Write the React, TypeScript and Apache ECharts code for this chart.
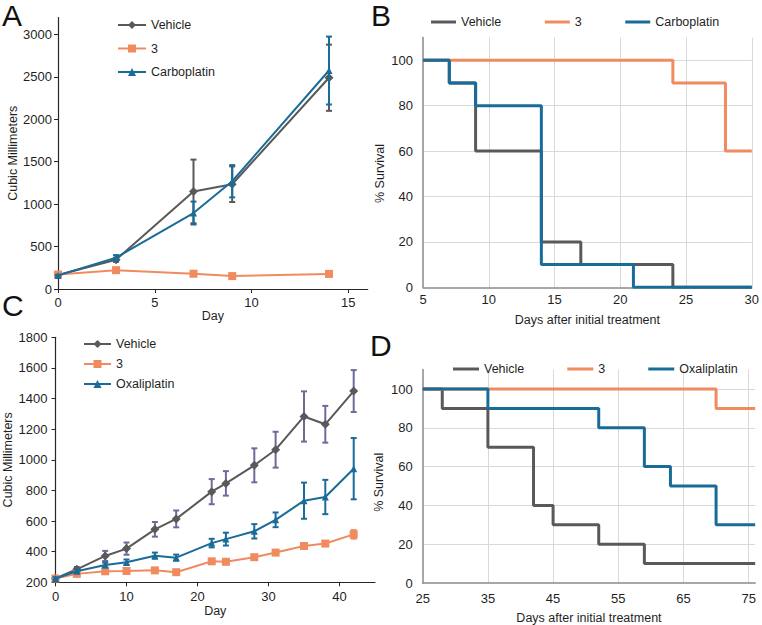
import React, { useEffect, useRef } from "react";
import * as echarts from "echarts";

// ---------- Panel A: tumour volume, carboplatin study ----------
const daysA = [0, 3, 7, 9, 14];
const vehicleA = [165, 345, 1150, 1235, 2490];
const vehicleAErr = [8, 25, 375, 210, 390];
const cmpd3A = [170, 222, 180, 152, 178];
const cmpd3AErr = [8, 10, 10, 8, 10];
const carboA = [160, 370, 895, 1270, 2575];
const carboAErr = [8, 30, 135, 190, 400];
const ticksAX = [0, 5, 10, 15];
const ticksAY = [0, 500, 1000, 1500, 2000, 2500, 3000];

// ---------- Panel B: survival, carboplatin study ----------
const survBVehicleT = [5, 7, 9, 14, 17, 24, 30];
const survBVehicle = [100, 90, 60, 20, 10, 0, 0];
const survB3T = [5, 24, 28, 30];
const survB3 = [100, 90, 60, 60];
const survBCarboT = [5, 7, 9, 14, 21, 30];
const survBCarbo = [100, 90, 80, 10, 0, 0];

// ---------- Panel C: tumour volume, oxaliplatin study ----------
const daysC = [0, 3, 7, 10, 14, 17, 22, 24, 28, 31, 35, 38, 42];
const vehicleC = [225, 285, 372, 420, 546, 614, 792, 846, 964, 1066, 1283, 1232, 1449];
const vehicleCErr = [10, 15, 33, 40, 48, 55, 82, 80, 111, 117, 164, 120, 137];
const cmpd3C = [225, 255, 272, 274, 278, 266, 337, 334, 364, 394, 437, 453, 513];
const cmpd3CErr = [8, 8, 10, 10, 10, 8, 12, 12, 12, 10, 12, 15, 28];
const oxaliC = [225, 272, 313, 331, 374, 361, 456, 482, 533, 608, 733, 757, 942];
const oxaliCErr = [8, 10, 15, 18, 20, 20, 28, 42, 47, 48, 118, 112, 200];
const ticksCX = [0, 10, 20, 30, 40];
const ticksCY = [200, 400, 600, 800, 1000, 1200, 1400, 1600, 1800];

// ---------- Panel D: survival, oxaliplatin study ----------
const survDVehicleT = [25, 28, 35, 42, 45, 52, 59, 76];
const survDVehicle = [100, 90, 70, 40, 30, 20, 10, 10];
const survD3T = [25, 70, 76];
const survD3 = [100, 90, 90];
const survDOxaliT = [25, 35, 52, 59, 63, 70, 76];
const survDOxali = [100, 90, 80, 60, 50, 30, 30];

const FONT = '"Liberation Sans", Arial, Helvetica, sans-serif';
const GRAY = "#595959";
const ORANGE = "#f08b60";
const BLUE = "#1a6c98";
const PURPLE = "#6c6c9c";
const TXT = "#1f1f1f";

function pairs(xs: number[], ys: number[]) {
  return xs.map((x, i) => [x, ys[i]]);
}

function errSeries(name: string, idx: number, xs: number[], mean: number[], err: number[], color: string, z: number) {
  return {
    type: "custom",
    name,
    xAxisIndex: idx,
    yAxisIndex: idx,
    silent: true,
    z,
    data: xs.map((x, i) => [x, mean[i] - err[i], mean[i] + err[i]]),
    encode: { x: 0, y: [1, 2] },
    renderItem: (_p: any, api: any) => {
      const x = api.value(0);
      const lo = api.coord([x, api.value(1)]);
      const hi = api.coord([x, api.value(2)]);
      const st = { stroke: color, lineWidth: 2, fill: "none" };
      const w = 3;
      return {
        type: "group",
        children: [
          { type: "line", shape: { x1: lo[0], y1: lo[1], x2: hi[0], y2: hi[1] }, style: st },
          { type: "line", shape: { x1: lo[0] - w, y1: lo[1], x2: lo[0] + w, y2: lo[1] }, style: st },
          { type: "line", shape: { x1: hi[0] - w, y1: hi[1], x2: hi[0] + w, y2: hi[1] }, style: st },
        ],
      };
    },
  };
}

function lineSeries(name: string, idx: number, xs: number[], ys: number[], color: string, symbol: string, size: number, z: number) {
  return {
    type: "line",
    name,
    xAxisIndex: idx,
    yAxisIndex: idx,
    data: pairs(xs, ys),
    symbol,
    symbolSize: size,
    lineStyle: { color, width: 2 },
    itemStyle: { color },
    z,
  };
}

function stepSeries(name: string, idx: number, xs: number[], ys: number[], color: string, z: number) {
  return {
    type: "line",
    name,
    xAxisIndex: idx,
    yAxisIndex: idx,
    step: "end",
    data: pairs(xs, ys),
    symbol: "none",
    lineStyle: { color, width: 3 },
    itemStyle: { color },
    z,
  };
}

const plain = (v: number) => String(v);
const labelStyle = { fontFamily: FONT, fontSize: 13, color: TXT, formatter: plain };
const nameStyle = { fontFamily: FONT, fontSize: 12.5, color: TXT };
const legendText = { fontFamily: FONT, fontSize: 12.5, color: TXT, lineHeight: 14 };
const stripName = (n: string) => n.split("|")[1];

export default function App() {
  const ref = useRef<HTMLDivElement>(null);
  useEffect(() => {
    if (!ref.current) return;
    const chart = echarts.init(ref.current, undefined, { renderer: "svg" });
    const blackAxis = { show: true, lineStyle: { color: "#262626", width: 1.2 } };
    const grayAxis = { show: true, lineStyle: { color: "#8a8a8a", width: 1.5 } };
    const grid = { show: true, lineStyle: { color: "#d9d9d9", width: 1 }, showMaxLine: false };

    const option: any = {
      animation: false,
      backgroundColor: "#ffffff",
      grid: [
        { left: 58, top: 17.5, width: 309.7, height: 271.5 },
        { left: 423, top: 37.6, width: 332.3, height: 249.7 },
        { left: 55.5, top: 337.3, width: 319.5, height: 245 },
        { left: 422.7, top: 369.6, width: 332.5, height: 213.7 },
      ],
      xAxis: [
        {
          gridIndex: 0, type: "value", min: 0, max: 16, interval: 5,
          axisLine: blackAxis,
          axisTick: { show: true, length: 4, customValues: ticksAX, lineStyle: { color: "#262626" } },
          axisLabel: { ...labelStyle, margin: 7, showMaxLabel: false },
          splitLine: { show: false },
          name: "Day", nameLocation: "middle", nameGap: 11, nameTextStyle: nameStyle,
        },
        {
          gridIndex: 1, type: "value", min: 5, max: 30, interval: 5,
          axisLine: grayAxis, axisTick: { show: false },
          axisLabel: { ...labelStyle, margin: 6 },
          splitLine: { ...grid, showMaxLine: true, showMinLine: false },
          name: "Days after initial treatment", nameLocation: "middle", nameGap: 26, nameTextStyle: nameStyle,
        },
        {
          gridIndex: 2, type: "value", min: 0, max: 45, interval: 10,
          axisLine: blackAxis,
          axisTick: { show: true, length: 4, customValues: ticksCX, lineStyle: { color: "#262626" } },
          axisLabel: { ...labelStyle, margin: 8, showMaxLabel: false },
          splitLine: { show: false },
          name: "Day", nameLocation: "middle", nameGap: 22, nameTextStyle: nameStyle,
        },
        {
          gridIndex: 3, type: "value", min: 25, max: 76, interval: 10,
          axisLine: grayAxis, axisTick: { show: false },
          axisLabel: { ...labelStyle, margin: 9, showMaxLabel: false },
          splitLine: { ...grid, showMinLine: false },
          name: "Days after initial treatment", nameLocation: "middle", nameGap: 28, nameTextStyle: nameStyle,
        },
      ],
      yAxis: [
        {
          gridIndex: 0, type: "value", min: 0, max: 3200, interval: 500,
          axisLine: blackAxis,
          axisTick: { show: true, length: 4, customValues: ticksAY, lineStyle: { color: "#262626" } },
          axisLabel: { ...labelStyle, margin: 6, showMaxLabel: false },
          splitLine: { show: false },
          name: "Cubic Millimeters", nameLocation: "middle", nameGap: 38, nameTextStyle: nameStyle,
        },
        {
          gridIndex: 1, type: "value", min: 0, max: 110, interval: 20,
          axisLine: grayAxis, axisTick: { show: false },
          axisLabel: { ...labelStyle, margin: 10, showMaxLabel: false },
          splitLine: { ...grid, showMinLine: false },
          name: "% Survival", nameLocation: "middle", nameGap: 37,
          nameTextStyle: { ...nameStyle, padding: [0, 22, 0, 0] },
        },
        {
          gridIndex: 2, type: "value", min: 200, max: 1800, interval: 200,
          axisLine: blackAxis,
          axisTick: { show: true, length: 4, customValues: ticksCY, lineStyle: { color: "#262626" } },
          axisLabel: { ...labelStyle, margin: 8 },
          splitLine: { show: false },
          name: "Cubic Millimeters", nameLocation: "middle", nameGap: 41, nameTextStyle: nameStyle,
        },
        {
          gridIndex: 3, type: "value", min: 0, max: 110, interval: 20,
          axisLine: grayAxis, axisTick: { show: false },
          axisLabel: { ...labelStyle, margin: 10, showMaxLabel: false },
          splitLine: { ...grid, showMinLine: false },
          name: "% Survival", nameLocation: "middle", nameGap: 37,
          nameTextStyle: { ...nameStyle, padding: [0, 12, 0, 0] },
        },
      ],
      legend: [
        {
          orient: "vertical", left: 112, top: 13, itemWidth: 28, itemHeight: 10, itemGap: 9.5,
          data: ["A|Vehicle", "A|3", "A|Carboplatin"], formatter: stripName, textStyle: legendText,
          selectedMode: false,
        },
        {
          orient: "horizontal", left: 426, top: 10, itemWidth: 25, itemHeight: 3, itemGap: 43.5,
          data: [
            { name: "B|Vehicle", icon: "rect" },
            { name: "B|3", icon: "rect" },
            { name: "B|Carboplatin", icon: "rect" },
          ],
          formatter: stripName, textStyle: legendText, selectedMode: false,
        },
        {
          orient: "vertical", left: 78, top: 332, itemWidth: 27, itemHeight: 10, itemGap: 6,
          data: ["C|Vehicle", "C|3", "C|Oxaliplatin"], formatter: stripName, textStyle: legendText,
          selectedMode: false,
        },
        {
          orient: "horizontal", left: 448, top: 357, itemWidth: 26, itemHeight: 3, itemGap: 43,
          data: [
            { name: "D|Vehicle", icon: "rect" },
            { name: "D|3", icon: "rect" },
            { name: "D|Oxaliplatin", icon: "rect" },
          ],
          formatter: stripName, textStyle: legendText, selectedMode: false,
        },
      ],
      graphic: [
        { type: "text", left: 2, top: 0, style: { text: "A", font: `30px ${FONT}`, fill: "#111" } },
        { type: "text", left: 371, top: 0, style: { text: "B", font: `30px ${FONT}`, fill: "#111" } },
        { type: "text", left: 2, top: 290, style: { text: "C", font: `30px ${FONT}`, fill: "#111" } },
        { type: "text", left: 370, top: 330, style: { text: "D", font: `30px ${FONT}`, fill: "#111" } },
      ],
      series: [
        lineSeries("A|Vehicle", 0, daysA, vehicleA, GRAY, "diamond", 9, 2),
        errSeries("A|VehicleErr", 0, daysA, vehicleA, vehicleAErr, GRAY, 2),
        lineSeries("A|3", 0, daysA, cmpd3A, ORANGE, "rect", 8, 3),
        errSeries("A|3Err", 0, daysA, cmpd3A, cmpd3AErr, ORANGE, 3),
        lineSeries("A|Carboplatin", 0, daysA, carboA, BLUE, "triangle", 7, 4),
        errSeries("A|CarboErr", 0, daysA, carboA, carboAErr, BLUE, 4),

        stepSeries("B|Vehicle", 1, survBVehicleT, survBVehicle, GRAY, 2),
        stepSeries("B|3", 1, survB3T, survB3, ORANGE, 3),
        stepSeries("B|Carboplatin", 1, survBCarboT, survBCarbo, BLUE, 4),

        lineSeries("C|Vehicle", 2, daysC, vehicleC, GRAY, "diamond", 9, 2),
        errSeries("C|VehicleErr", 2, daysC, vehicleC, vehicleCErr, PURPLE, 2),
        lineSeries("C|3", 2, daysC, cmpd3C, ORANGE, "rect", 8, 3),
        errSeries("C|3Err", 2, daysC, cmpd3C, cmpd3CErr, ORANGE, 3),
        lineSeries("C|Oxaliplatin", 2, daysC, oxaliC, BLUE, "triangle", 7, 4),
        errSeries("C|OxaliErr", 2, daysC, oxaliC, oxaliCErr, BLUE, 4),

        stepSeries("D|Vehicle", 3, survDVehicleT, survDVehicle, GRAY, 2),
        stepSeries("D|3", 3, survD3T, survD3, ORANGE, 3),
        stepSeries("D|Oxaliplatin", 3, survDOxaliT, survDOxali, BLUE, 4),
      ],
    };
    chart.setOption(option);
    return () => chart.dispose();
  }, []);
  return (
    <div
      ref={ref}
      style={{ position: "absolute", left: 0, top: 0, width: 762, height: 625, background: "#fff" }}
    />
  );
}
